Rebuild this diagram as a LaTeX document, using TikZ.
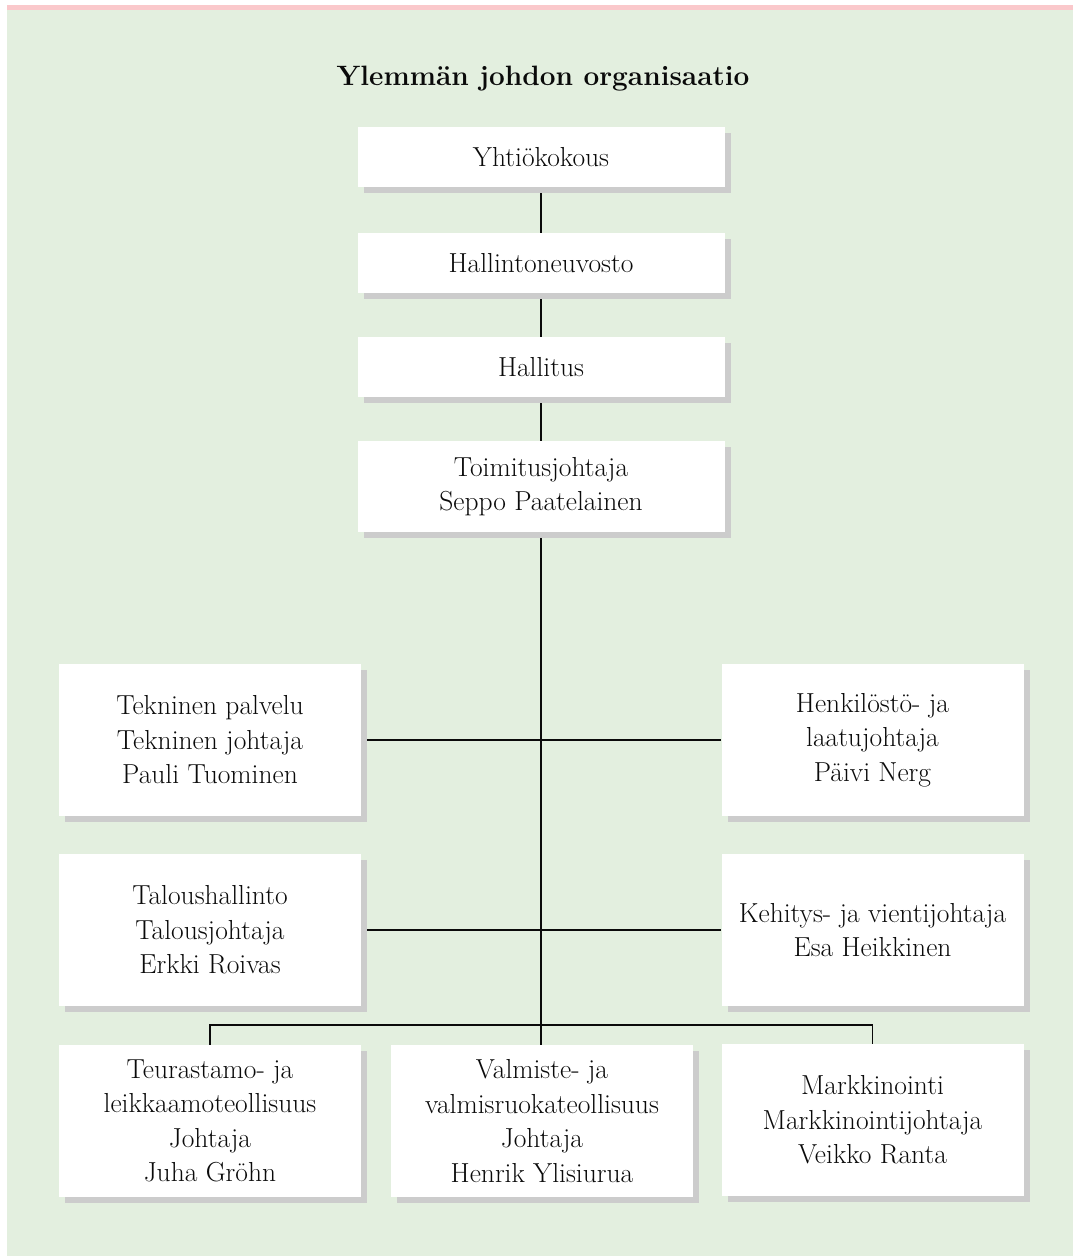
\documentclass[tikz,border=0pt]{standalone}
\usetikzlibrary{shadows,backgrounds}
\definecolor{bggreen}{HTML}{E3EFDF}
\definecolor{bandpink}{HTML}{FAC8CB}
\definecolor{shadowgray}{HTML}{CCCCCC}
\definecolor{inkc}{HTML}{0A0A0A}
\tikzset{
  orgbox/.style={draw=none, fill=white, align=center, inner sep=0pt,
    font=\fontsize{27.5}{34.5}\selectfont, text=inkc,
    general shadow={fill=shadowgray, shadow xshift=6pt, shadow yshift=-6pt}},
  topbox/.style={orgbox, minimum width=367pt, minimum height=60pt},
  sidebox/.style={orgbox, minimum width=302pt, minimum height=152pt},
  conn/.style={draw=inkc, line width=1.3pt}
}
\begin{document}
\begin{tikzpicture}[x=1pt,y=-1pt]
\useasboundingbox (0,0) rectangle (1073,1256);

\node[font=\fontsize{28}{32}\selectfont\bfseries, text=inkc, anchor=base] (title) at (543,85) {Ylemmän johdon organisaatio};

\node[topbox] (yht) at (541,157) {Yhtiökokous};
\node[topbox] (hneuv) at (541,263) {Hallintoneuvosto};
\node[topbox] (hall) at (541,367) {Hallitus};
\node[topbox, minimum height=91pt] (tj) at (541,486.5) {Toimitusjohtaja\\Seppo Paatelainen};

\node[sidebox] (tek) at (210,740) {Tekninen palvelu\\Tekninen johtaja\\Pauli Tuominen};
\node[sidebox] (hen) at (872.5,740) {Henkilöstö- ja\\laatujohtaja\\Päivi Nerg};
\node[sidebox] (tal) at (210,930) {Taloushallinto\\Talousjohtaja\\Erkki Roivas};
\node[sidebox] (keh) at (872.5,930) {Kehitys- ja vientijohtaja\\Esa Heikkinen};

\node[sidebox] (teu) at (210,1121) {Teurastamo- ja\\leikkaamoteollisuus\\Johtaja\\Juha Gröhn};
\node[sidebox] (val) at (542,1121) {Valmiste- ja\\valmisruokateollisuus\\Johtaja\\Henrik Ylisiurua};
\node[sidebox] (mar) at (872.5,1120) {Markkinointi\\Markkinointijohtaja\\Veikko Ranta};

\coordinate (split) at (541,1025);

\begin{pgfonlayer}{background}
\fill[white] (0,0) rectangle (1073,1256);
\fill[bandpink] (7,5) rectangle (1073,10);
\fill[bggreen] (7,10) rectangle (1073,1256);
\draw[conn] (yht) -- (hneuv);
\draw[conn] (hneuv) -- (hall);
\draw[conn] (hall) -- (tj);
\draw[conn] (tj.south) -- (split);
\draw[conn] (tek) -- (hen);
\draw[conn] (tal) -- (keh);
\draw[conn] (teu.north) |- (split) -| (mar.north);
\draw[conn] (split) -- (split |- val.north);
\end{pgfonlayer}
\end{tikzpicture}
\end{document}
